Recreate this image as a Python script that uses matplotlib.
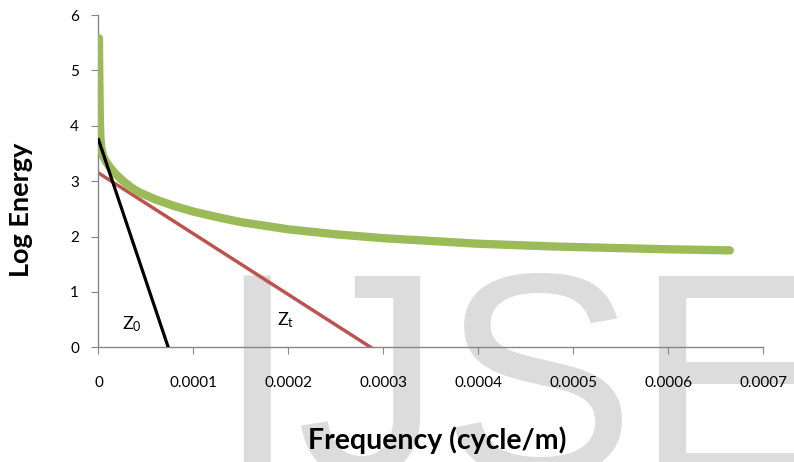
import numpy as np
import matplotlib
matplotlib.use("Agg")
import matplotlib.pyplot as plt
import matplotlib.patheffects as pe

plt.rcParams['font.family'] = ['Lato', 'DejaVu Sans']
plt.rcParams['mathtext.fontset'] = 'custom'
plt.rcParams['mathtext.rm'] = 'Lato'
plt.rcParams['mathtext.it'] = 'Lato'

# measured log energy spectrum
freq = [0.0000005, 0.000001, 0.0000015, 0.000002, 0.000003, 0.000005, 0.000008,
        0.000012, 0.000018, 0.000026, 0.000035, 0.000044, 0.00006, 0.00008,
        0.0001, 0.00012, 0.00015, 0.0002, 0.00025, 0.0003, 0.00036, 0.0004,
        0.00048, 0.00055, 0.0006, 0.000665]
log_energy = [5.58, 4.7, 4.1, 3.8, 3.6, 3.45, 3.35, 3.25, 3.13, 3.0, 2.88,
              2.79, 2.67, 2.55, 2.45, 2.37, 2.26, 2.13, 2.04, 1.97, 1.91, 1.87,
              1.82, 1.79, 1.77, 1.75]

# fitted straight lines (deep source Z0, top Zt)
z0_freq = [0.0, 0.0000735]
z0_energy = [3.75, 0.0]
zt_freq = [0.0, 0.000287]
zt_energy = [3.15, 0.0]

xticks = [0, 0.0001, 0.0002, 0.0003, 0.0004, 0.0005, 0.0006, 0.0007]
xlabels = ['0', '0.0001', '0.0002', '0.0003', '0.0004', '0.0005', '0.0006', '0.0007']
yticks = [0, 1, 2, 3, 4, 5, 6]

fig = plt.figure(figsize=(7.94, 4.62), dpi=100)

# IJSE watermark behind the chart
fig.text(0.272, -0.029, 'IJSE', family='Liberation Sans', fontsize=209,
         color='#dcdcdc', ha='left', va='baseline', zorder=-5)

ax = fig.add_axes([0.124, 0.2483, 0.837, 0.7192])
ax.patch.set_alpha(0)

ax.plot(zt_freq, zt_energy, color='#c0504d', lw=2.3, zorder=2,
        path_effects=[pe.SimpleLineShadow(offset=(1.2, -1.2), alpha=0.25), pe.Normal()])
ax.plot(freq, log_energy, color='#9bbb59', lw=6, solid_capstyle='round',
        solid_joinstyle='round', zorder=3)
ax.plot(z0_freq, z0_energy, color='black', lw=2.3, zorder=4)

ax.text(0.000025, 0.33, r'Z$_0$', fontsize=13, color='black')
ax.text(0.000188, 0.4, r'Z$_\mathrm{t}$', fontsize=13, color='black')

ax.set_xlim(0, 0.0007)
ax.set_ylim(0, 6)
ax.set_xticks(xticks)
ax.set_xticklabels(xlabels)
ax.set_yticks(yticks)

for s in ['top', 'right']:
    ax.spines[s].set_visible(False)
for s in ['left', 'bottom']:
    ax.spines[s].set_color('#868686')
    ax.spines[s].set_linewidth(1)

ax.tick_params(axis='x', direction='out', length=5, color='#868686', pad=16, labelsize=11)
ax.tick_params(axis='y', direction='out', length=5, color='#868686', pad=9, labelsize=11)

ax.set_xlabel('Frequency (cycle/m)', fontsize=20.5, fontweight='bold')
ax.set_ylabel('Log Energy', fontsize=19.5, fontweight='bold')
ax.xaxis.set_label_coords(0.509, -0.237)
ax.yaxis.set_label_coords(-0.099, 0.413)

fig.savefig('out.png', dpi=100)
